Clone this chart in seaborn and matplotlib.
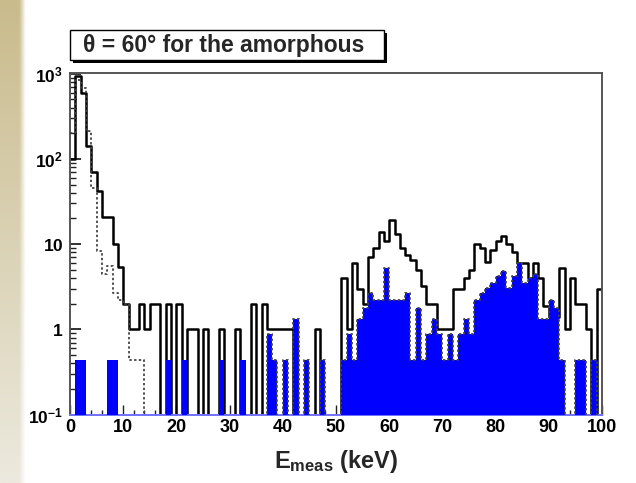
import numpy as np
import matplotlib
matplotlib.use("Agg")
import matplotlib.pyplot as plt
from matplotlib.ticker import MultipleLocator, LogLocator, NullFormatter, FixedLocator, FixedFormatter
from matplotlib.patches import Rectangle
import seaborn as sns
import pandas as pd

# ---------------- data (1 keV bins, 0..100 keV) ----------------
bin_edges = list(range(0, 101))
energy = [e + 0.5 for e in range(100)]

total = [100, 940, 600, 140, 70, 42, 21, 21, 10, 5.4,
         2, 1, 1, 2, 1, 2, 2, 0, 2, 0,
         2, 0, 1, 1, 0, 1, 0, 0, 1, 0,
         0, 1, 0, 0, 2, 0, 2, 1, 1, 1,
         1, 1, 0, 0, 0, 0, 1, 0, 0, 0,
         0, 4, 1, 6, 3, 2, 7, 9, 14, 11,
         19, 13, 9, 7.5, 6.5, 5, 3.2, 2, 2, 1,
         1, 1, 3, 3, 4, 5, 10, 9, 6.2, 8.5,
         11, 12.5, 10, 8, 6, 6, 4, 6, 4, 1.9,
         1.4, 1.4, 5.2, 1, 4, 2, 2, 1, 0, 3]

dotted = [200, 850, 680, 210, 45, 8.3, 4.4, 5.5, 2.7, 2.2,
          2.0, 0.44, 0.44, 0.44, 0, 0, 0, 0, 0, 0,
          0, 0, 0, 0, 0, 0, 0, 0, 0, 0,
          0, 0, 0, 0, 0, 0, 0, 0.88, 0.44, 0,
          0.44, 0, 1.32, 0, 0.44, 0, 0, 0.44, 0, 0,
          0, 0.44, 0.88, 0.44, 1.32, 1.76, 2.64, 2.2, 2.2, 5.28,
          2.2, 2.2, 2.2, 2.64, 0.44, 1.76, 0.44, 0.88, 1.32, 0.88,
          0.44, 0.88, 0.44, 0.88, 1.32, 0.88, 2.2, 2.64, 3.08, 3.52,
          4.18, 4.84, 3.08, 4.18, 5.94, 3.52, 3.96, 4.4, 1.32, 1.32,
          2.2, 1.76, 0.44, 0, 0, 0.44, 0.44, 0, 0.44, 0]

blue = [0, 0.44, 0.44, 0, 0, 0, 0, 0.44, 0.44, 0,
        0, 0, 0, 0, 0, 0, 0, 0, 0.44, 0,
        0, 0.44, 0, 0, 0, 0, 0, 0, 0.44, 0,
        0, 0, 0.44, 0, 0, 0, 0, 0.88, 0.44, 0,
        0.44, 0, 1.32, 0, 0.44, 0, 0, 0.44, 0, 0,
        0, 0.44, 0.88, 0.44, 1.32, 1.76, 2.64, 2.2, 2.2, 5.28,
        2.2, 2.2, 2.2, 2.64, 0.44, 1.76, 0.44, 0.88, 1.32, 0.88,
        0.44, 0.88, 0.44, 0.88, 1.32, 0.88, 2.2, 2.64, 3.08, 3.52,
        4.18, 4.84, 3.08, 4.18, 5.94, 3.52, 3.96, 4.4, 1.32, 1.32,
        2.2, 1.76, 0.44, 0, 0, 0.44, 0.44, 0, 0.44, 0]

x_ticks = [0, 10, 20, 30, 40, 50, 60, 70, 80, 90, 100]
y_ticks = [0.1, 1, 10, 100, 1000]
y_tick_labels = [r'$\mathbf{10^{-1}}$', r'$\mathbf{1}$', r'$\mathbf{10}$',
                 r'$\mathbf{10^{2}}$', r'$\mathbf{10^{3}}$']
title_text = "\u03b8 = 60\u00b0 for the amorphous"
x_title = r'$\mathbf{E_{meas}}$ (keV)'

# ---------------- style ----------------
sns.set_theme(style="white")
plt.rcParams['font.family'] = ['Liberation Sans', 'DejaVu Sans']
plt.rcParams['mathtext.fontset'] = 'custom'
plt.rcParams['mathtext.rm'] = 'Liberation Sans'
plt.rcParams['mathtext.bf'] = 'Liberation Sans:bold'
plt.rcParams['mathtext.it'] = 'Liberation Sans:italic'

W, H = 636, 483
fig = plt.figure(figsize=(W / 100, H / 100), dpi=100)
fig.patch.set_facecolor('white')

# slide background strip on the left
bg = fig.add_axes([0, 0, 26 / W, 1], zorder=-10)
gy = np.linspace(0, 1, 200)[:, None]
gx = np.linspace(0, 1, 40)[None, :]
top_c = np.array([201, 187, 140]) / 255
bot_c = np.array([236, 233, 222]) / 255
col = top_c[None, None, :] * (1 - gy[..., None]) + bot_c[None, None, :] * gy[..., None]
fade = np.clip((gx - 0.75) / 0.25, 0, 1)[..., None]
img = col * (1 - fade) + np.ones(3)[None, None, :] * fade
img = np.broadcast_to(img, (200, 40, 3))
bg.imshow(img, aspect='auto', extent=[0, 1, 0, 1], origin='upper')
bg.axis('off')

L, R, T, B = 70, 602, 73, 414.5
ax = fig.add_axes([L / W, 1 - B / H, (R - L) / W, (B - T) / H])
ax.set_facecolor('white')

df = pd.DataFrame({'E': energy, 'total': total, 'dotted': dotted, 'blue': blue})

sns.histplot(data=df, x='E', weights='total', bins=bin_edges, element='step',
             fill=False, color='black', linewidth=1.8, ax=ax, zorder=2)
sns.histplot(data=df, x='E', weights='blue', bins=bin_edges, element='step',
             fill=True, color='#0000ff', alpha=1.0, linewidth=0, ax=ax, zorder=3)
sns.histplot(data=df, x='E', weights='dotted', bins=bin_edges, element='step',
             fill=False, color='#444444', linewidth=1.3, linestyle=(0, (1.3, 1.3)),
             ax=ax, zorder=4)

ax.set_yscale('log')
ax.set_xlim(0, 100)
ax.set_ylim(0.1, 1020)

ax.xaxis.set_major_locator(FixedLocator(x_ticks))
ax.xaxis.set_minor_locator(MultipleLocator(2))
ax.set_xticklabels([str(v) for v in x_ticks])
ax.yaxis.set_major_locator(FixedLocator(y_ticks))
ax.yaxis.set_major_formatter(FixedFormatter(y_tick_labels))
ax.yaxis.set_minor_locator(LogLocator(base=10, subs=np.arange(2, 10)))
ax.yaxis.set_minor_formatter(NullFormatter())

ax.tick_params(axis='both', which='both', direction='in', top=False, right=False,
               left=True, bottom=True, colors='#222222', labelcolor='black')
ax.tick_params(axis='y', which='major', length=8, width=1.3, labelsize=12.5, pad=5)
ax.tick_params(axis='y', which='minor', length=4, width=1.0)
ax.tick_params(axis='x', which='major', length=7, width=1.0, labelsize=13, pad=3)
ax.tick_params(axis='x', which='minor', length=3.5, width=1.0)
for lab in ax.get_xticklabels():
    lab.set_fontweight('bold')

for s in ['top', 'left', 'right']:
    ax.spines[s].set_color('#555555')
    ax.spines[s].set_linewidth(1.4)
ax.spines['bottom'].set_color('#7070ff')
ax.spines['bottom'].set_linewidth(1.4)

ax.set_ylabel('')
ax.set_xlabel(x_title, fontsize=17, fontweight='bold', labelpad=9)

# title pave with shadow
bx0, bx1, by0, by1 = 70, 384, 30, 60
fig.patches.append(Rectangle(((bx0 + 3) / W, 1 - (by1 + 3) / H), (bx1 - bx0) / W, (by1 - by0) / H,
                             transform=fig.transFigure, facecolor='black', edgecolor='none', zorder=5))
fig.patches.append(Rectangle((bx0 / W, 1 - by1 / H), (bx1 - bx0) / W, (by1 - by0) / H,
                             transform=fig.transFigure, facecolor='white', edgecolor='black',
                             linewidth=1.0, zorder=6))
fig.text(224 / W, 1 - 45.5 / H, title_text, ha='center', va='center',
         fontsize=16.5, fontweight='bold', zorder=7)

fig.savefig('out.png', dpi=100)
